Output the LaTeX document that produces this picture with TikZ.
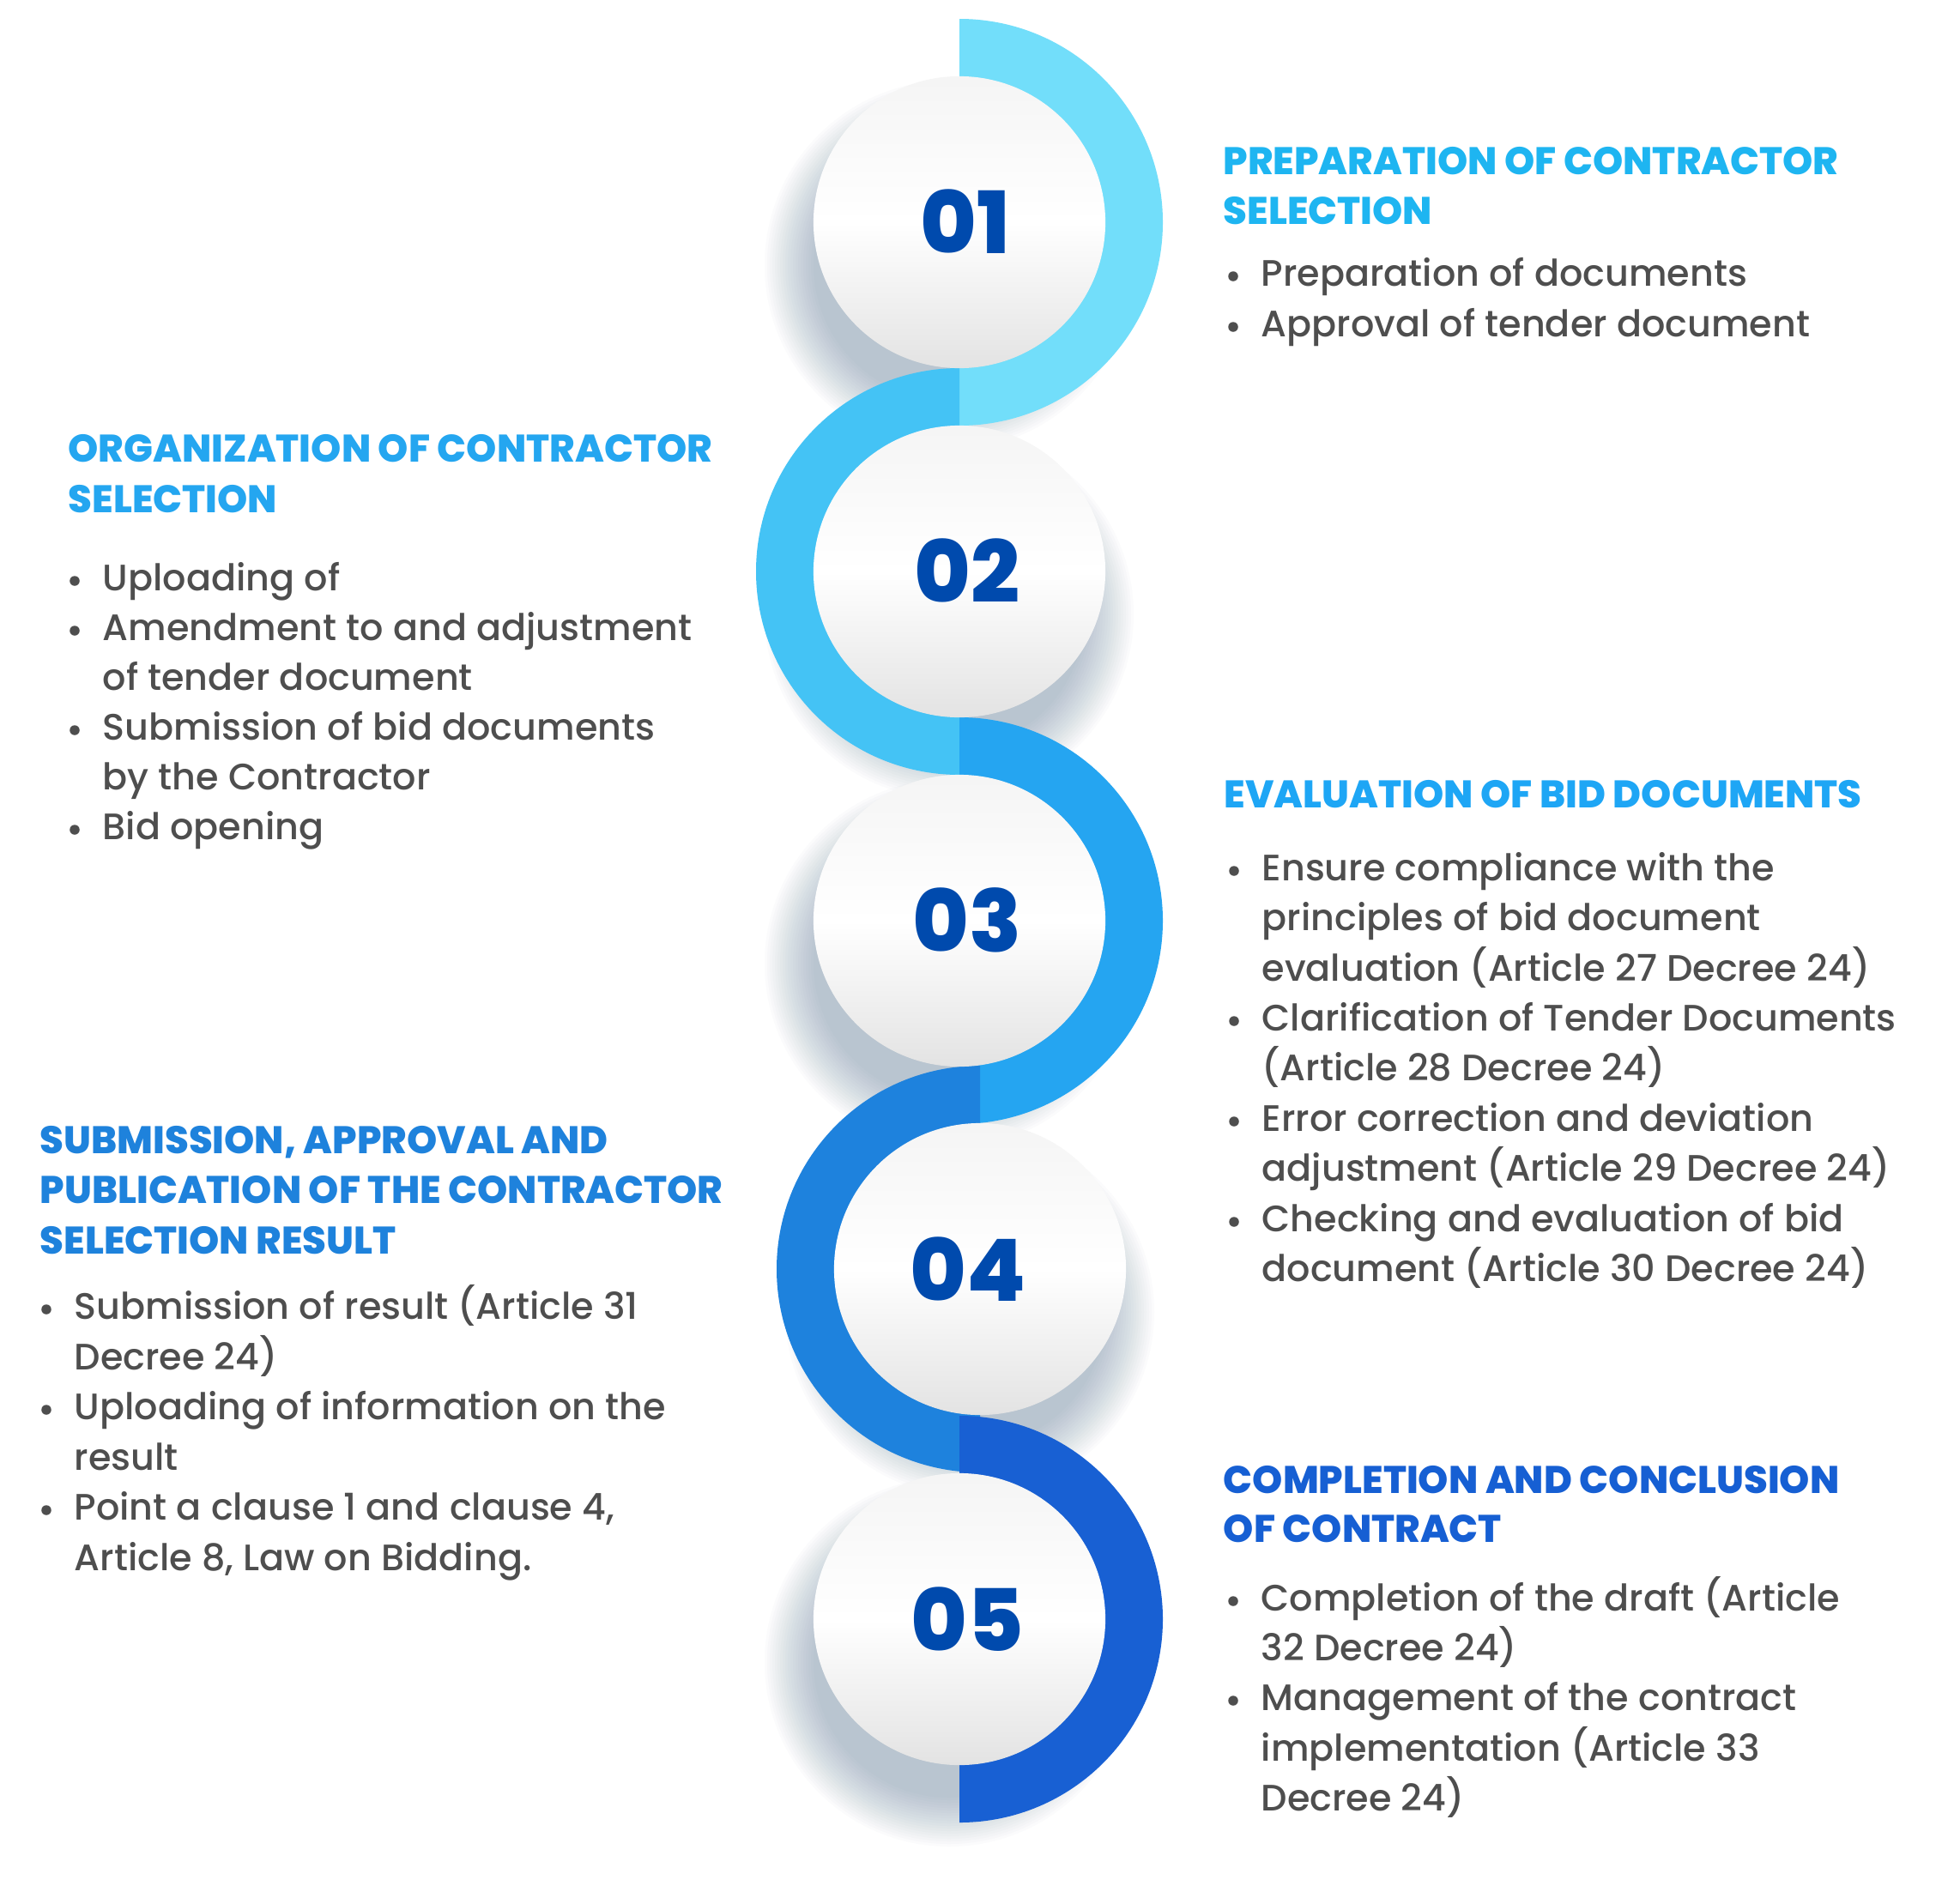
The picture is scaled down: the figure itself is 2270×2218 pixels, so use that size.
\documentclass[tikz,border=0pt]{standalone}
\usepackage{fontspec}
\setmainfont{Poppins}[UprightFont={* Medium},BoldFont={* ExtraBold}]
\definecolor{arcA}{HTML}{72DEFA}
\definecolor{arcB}{HTML}{44C3F5}
\definecolor{arcC}{HTML}{25A5F1}
\definecolor{arcD}{HTML}{1E82DD}
\definecolor{arcE}{HTML}{1860D3}
\definecolor{headA}{HTML}{1EB5F1}
\definecolor{headB}{HTML}{24A6F0}
\definecolor{headC}{HTML}{1EA6F5}
\definecolor{headD}{HTML}{1E82DC}
\definecolor{headE}{HTML}{165FD3}
\definecolor{numc}{HTML}{004AAD}
\definecolor{bodyc}{HTML}{4E4E4E}
\definecolor{shc}{HTML}{5A7896}
\newcommand\ringRight[3]{\fill[#3] (#1,#2+237) arc[start angle=90,end angle=-90,radius=237] -- (#1,#2-168) arc[start angle=-90,end angle=90,radius=168] -- cycle;}
\newcommand\ringLeft[3]{\fill[#3] (#1,#2+237) arc[start angle=90,end angle=270,radius=237] -- (#1,#2-168) arc[start angle=270,end angle=90,radius=168] -- cycle;}
\newcommand\ballShadow[2]{\foreach \k in {1,...,20}{\fill[shc,opacity=0.025] (#1-12,#2-50) circle[radius=218-\k*3];}}
\begin{document}
\begin{tikzpicture}[x=0.01cm,y=0.01cm,
  ball/.style={circle,minimum size=3.4cm,inner sep=0pt,top color=white!96!black,bottom color=white!89!black,middle color=white},
  numtxt/.style={anchor=base,inner sep=0pt,text=numc,font=\fontsize{28.5}{30}\selectfont\bfseries},
  headtxt/.style={anchor=base west,inner sep=0pt,font=\fontsize{12.75}{14}\selectfont\bfseries},
  bodytxt/.style={anchor=base west,inner sep=0pt,text=bodyc,font=\fontsize{12.2}{14}\selectfont},
  bdot/.style={circle,fill=bodyc,minimum size=0.115cm,inner sep=0pt}]
\fill[white] (0,0) rectangle (2270,-2218);
\useasboundingbox (0,0) rectangle (2270,-2218);
% shadows
\ballShadow{1118}{-259}
\ballShadow{1118}{-666}
\ballShadow{1118}{-1073}
\ballShadow{1142}{-1479}
\ballShadow{1118}{-1887}
% rings
\ringRight{1118}{-259}{arcA}
\ringLeft{1118}{-666}{arcB}
\ringRight{1118}{-1073}{arcC}
\ringLeft{1142}{-1479}{arcD}
\ringRight{1118}{-1887}{arcE}
% balls
\node[ball] (b1) at (1118,-259) {};
\node[ball] (b2) at (1118,-666) {};
\node[ball] (b3) at (1118,-1073) {};
\node[ball] (b4) at (1142,-1479) {};
\node[ball] (b5) at (1118,-1887) {};
\node[numtxt] (n1) at (1125,-295) {01};
\node[numtxt] (n2) at (1127,-702) {02};
\node[numtxt] (n3) at (1127,-1109) {03};
\node[numtxt] (n4) at (1128,-1516) {04};
\node[numtxt] (n5) at (1127,-1924) {05};
% block 1
\node[headtxt,text=headA] (h1a) at (1425,-203) {PREPARATION OF CONTRACTOR};
\node[headtxt,text=headA] (h1b) at (1425,-261) {SELECTION};
\node[bdot] (d1a) at (1437,-322) {};
\node[bdot] (d1b) at (1437,-381) {};
\node[bodytxt] (t1a) at (1469,-333) {Preparation of documents};
\node[bodytxt] (t1b) at (1469,-392) {Approval of tender document};
% block 2
\node[headtxt,text=headB] (h2a) at (79,-538) {ORGANIZATION OF CONTRACTOR};
\node[headtxt,text=headB] (h2b) at (79,-597) {SELECTION};
\node[bdot] (d2a) at (87,-677) {};
\node[bdot] (d2b) at (87,-735) {};
\node[bdot] (d2c) at (87,-851) {};
\node[bdot] (d2d) at (87,-967) {};
\node[bodytxt] (t2a) at (119,-688) {Uploading of};
\node[bodytxt] (t2b) at (119,-746) {Amendment to and adjustment};
\node[bodytxt] (t2c) at (119,-804) {of tender document};
\node[bodytxt] (t2d) at (119,-862) {Submission of bid documents};
\node[bodytxt] (t2e) at (119,-920) {by the Contractor};
\node[bodytxt] (t2f) at (119,-978) {Bid opening};
% block 3
\node[headtxt,text=headC] (h3a) at (1426,-941) {EVALUATION OF BID DOCUMENTS};
\node[bdot] (d3a) at (1438,-1015) {};
\node[bdot] (d3b) at (1438,-1190) {};
\node[bdot] (d3c) at (1438,-1307) {};
\node[bdot] (d3d) at (1438,-1424) {};
\node[bodytxt] (t3a) at (1470,-1026) {Ensure compliance with the};
\node[bodytxt] (t3b) at (1470,-1084) {principles of bid document};
\node[bodytxt] (t3c) at (1470,-1143) {evaluation (Article 27 Decree 24)};
\node[bodytxt] (t3d) at (1470,-1201) {Clarification of Tender Documents};
\node[bodytxt] (t3e) at (1470,-1259) {(Article 28 Decree 24)};
\node[bodytxt] (t3f) at (1470,-1318) {Error correction and deviation};
\node[bodytxt] (t3g) at (1470,-1376) {adjustment (Article 29 Decree 24)};
\node[bodytxt] (t3h) at (1470,-1435) {Checking and evaluation of bid};
\node[bodytxt] (t3i) at (1470,-1493) {document (Article 30 Decree 24)};
% block 4
\node[headtxt,text=headD] (h4a) at (46,-1344) {SUBMISSION, APPROVAL AND};
\node[headtxt,text=headD] (h4b) at (46,-1402) {PUBLICATION OF THE CONTRACTOR};
\node[headtxt,text=headD] (h4c) at (46,-1461) {SELECTION RESULT};
\node[bdot] (d4a) at (54,-1526) {};
\node[bdot] (d4b) at (54,-1643) {};
\node[bdot] (d4c) at (54,-1760) {};
\node[bodytxt] (t4a) at (86,-1537) {Submission of result (Article 31};
\node[bodytxt] (t4b) at (86,-1596) {Decree 24)};
\node[bodytxt] (t4c) at (86,-1654) {Uploading of information on the};
\node[bodytxt] (t4d) at (86,-1713) {result};
\node[bodytxt] (t4e) at (86,-1771) {Point a clause 1 and clause 4,};
\node[bodytxt] (t4f) at (86,-1830) {Article 8, Law on Bidding.};
% block 5
\node[headtxt,text=headE] (h5a) at (1425,-1740) {COMPLETION AND CONCLUSION};
\node[headtxt,text=headE] (h5b) at (1425,-1797) {OF CONTRACT};
\node[bdot] (d5a) at (1437,-1866) {};
\node[bdot] (d5b) at (1437,-1982) {};
\node[bodytxt] (t5a) at (1469,-1877) {Completion of the draft (Article};
\node[bodytxt] (t5b) at (1469,-1935) {32 Decree 24)};
\node[bodytxt] (t5c) at (1469,-1993) {Management of the contract};
\node[bodytxt] (t5d) at (1469,-2052) {implementation (Article 33};
\node[bodytxt] (t5e) at (1469,-2110) {Decree 24)};
\end{tikzpicture}
\end{document}
